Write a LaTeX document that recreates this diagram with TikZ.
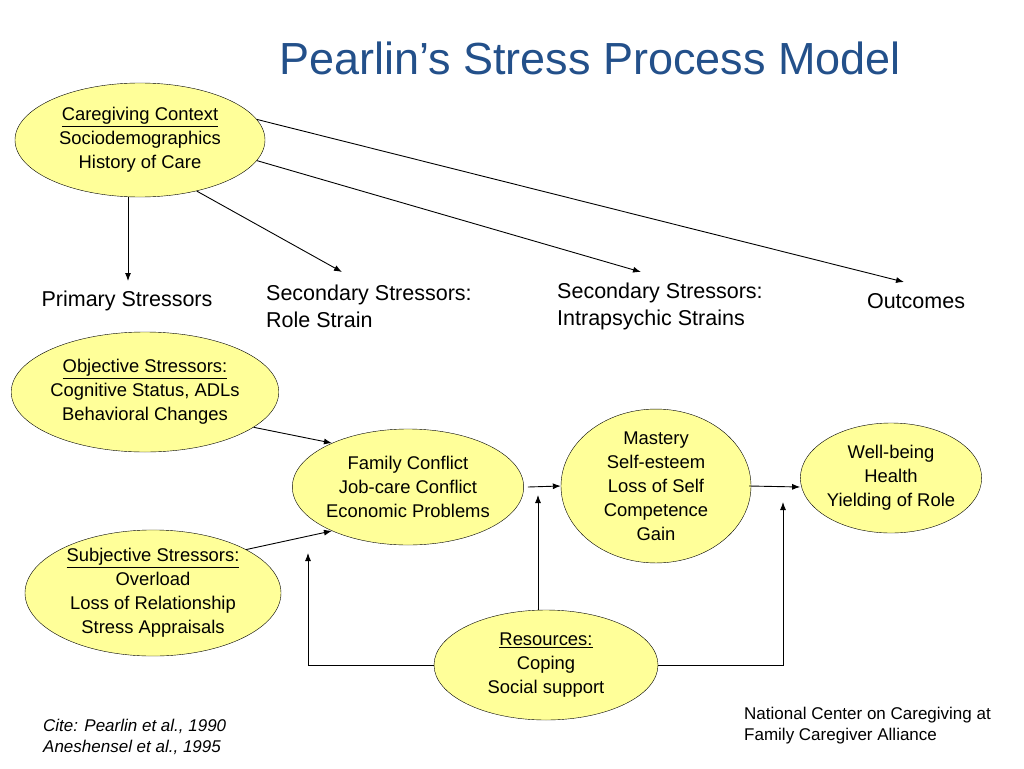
\documentclass[tikz,border=0pt]{standalone}
\usepackage{fontspec}
\setmainfont{Liberation Sans}
\usetikzlibrary{shapes.geometric,arrows.meta,calc}
\definecolor{titleblue}{HTML}{23508A}
\definecolor{paleyellow}{HTML}{FFFF99}
\tikzset{
	oval/.style={shape=ellipse,draw=black,fill=paleyellow,inner sep=0pt,align=center,font=\fontsize{18.4}{24}\selectfont},
	lbl/.style={align=left,font=\fontsize{21.5}{27}\selectfont,inner sep=0pt},
	arr/.style={-{Latex[length=8pt,width=6pt]},black,line width=0.9pt}
}
\begin{document}
\begin{tikzpicture}[x=1pt,y=-1pt]
	\useasboundingbox (0,0) rectangle (1024,768);
	\node[text=titleblue,font=\fontsize{45}{48}\selectfont] (title) at (590,58) {Pearlin’s Stress Process Model};

	\node[oval,minimum width=250,minimum height=114] (cc) at (140,140) {\underline{Caregiving Context}\\Sociodemographics\\History of Care};
	\node[oval,minimum width=256,minimum height=120] (obj) at (145,392) {\underline{Objective Stressors:}\\Cognitive Status, ADLs\\Behavioral Changes};
	\node[oval,minimum width=256,minimum height=120] (subj) at (153,593) {\underline{Subjective Stressors:}\\Overload\\Loss of Relationship\\Stress Appraisals};
	\node[oval,minimum width=220,minimum height=116] (fam) at (408,487) {Family Conflict\\Job-care Conflict\\Economic Problems};
	\node[oval,minimum width=190,minimum height=150] (mast) at (656,486) {Mastery\\Self-esteem\\Loss of Self\\Competence\\Gain};
	\node[oval,minimum width=180,minimum height=110] (well) at (891,478) {Well-being\\Health\\Yielding of Role};
	\node[oval,minimum width=224,minimum height=110] (res) at (546,665) {\underline{Resources:}\\Coping\\Social support};

	\node[lbl] (prim) at (127,301) {Primary Stressors};
	\node[lbl,anchor=west] (role) at (266,306) {Secondary Stressors:\\Role Strain};
	\node[lbl,anchor=west] (intra) at (557,306) {Secondary Stressors:\\Intrapsychic Strains};
	\node[lbl] (out) at (916,301) {Outcomes};

	\coordinate (primtop) at (128,281);
	\coordinate (roletop) at (342,272);
	\coordinate (intratop) at (641,272);
	\coordinate (outtop) at (904,282);
	\draw[arr] (128,197) -- (primtop);
	\draw[arr] (cc.-42) -- (roletop);
	\draw[arr] (cc.-10) -- (intratop);
	\draw[arr] (cc.10) -- (outtop);

	\draw[arr] (obj.-18) -- (fam.150);
	\draw[arr] (subj.25) -- (fam.-150);
	\draw[arr] (fam.east) ++(4,0) -- (mast.west);
	\draw[arr] (mast.east) ++(-2,0) -- ($(well.west)+(0,9)$);
	\draw[arr] (res.north) ++(-8,0) -- (538,495);
	\draw[arr] (res.west) -- (308,665) -- (308,553);
	\draw[arr] (res.east) -- (783,665) -- (783,502);

	\node[anchor=west,inner sep=0pt,font=\fontsize{17}{21}\itshape,align=left] (cite) at (43,737) {Cite: Pearlin et al., 1990\\Aneshensel et al., 1995};
	\node[anchor=west,inner sep=0pt,font=\fontsize{17}{21}\selectfont,align=left] (ncc) at (744,726) {National Center on Caregiving at\\Family Caregiver Alliance};
\end{tikzpicture}
\end{document}
